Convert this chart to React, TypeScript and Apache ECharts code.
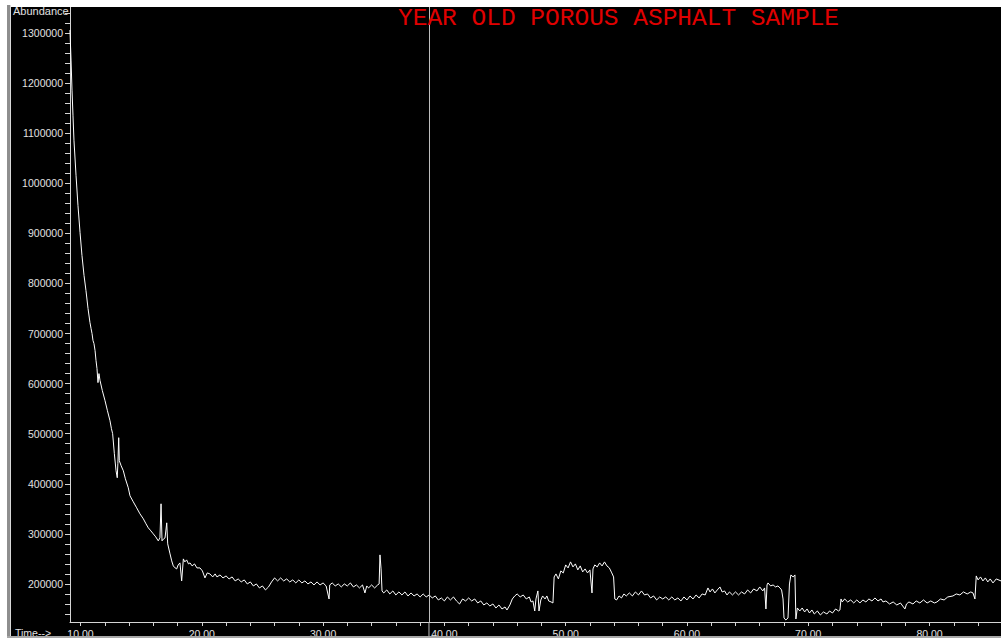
import React, { useEffect, useRef } from "react";
import * as echarts from "echarts";

const TITLE = "YEAR OLD POROUS ASPHALT SAMPLE";
const Y_NAME = "Abundance";
const X_NAME = "Time-->";

const X_MIN = 9.134;
const X_MAX = 85.89;
const Y_MIN = 124000;
const Y_MAX = 1352000;

const xLabelValues = [10, 20, 30, 40, 50, 60, 70, 80];
const yLabelValues = [
  200000, 300000, 400000, 500000, 600000, 700000, 800000, 900000, 1000000,
  1100000, 1200000, 1300000,
];
const X_MINOR_STEP = 2;
const Y_MINOR_STEP = 20000;

// time of the vertical cursor line (minutes)
const cursorTime = 38.73;

// [time (min), abundance]
const decayTrace: [number, number][] = [
  [9.13, 1306000], [9.22, 1246000], [9.3, 1186000], [9.38, 1136000], [9.46, 1086000],
  [9.63, 1016000], [9.79, 956000], [9.96, 902000], [10.12, 856000], [10.29, 816000],
  [10.45, 786000], [10.62, 750000], [10.78, 722000], [10.87, 710000], [10.95, 700000],
  [11.03, 686000], [11.11, 680000], [11.2, 666000], [11.28, 646000], [11.36, 630000],
  [11.44, 602000], [11.52, 620000], [11.61, 606000], [11.8, 586000], [12.02, 566000],
  [12.22, 546000], [12.43, 526000], [12.55, 510000], [12.65, 500000], [12.79, 460000],
  [12.93, 426000], [13.03, 412000], [13.08, 440000], [13.15, 492000], [13.2, 446000],
  [13.35, 436000], [13.53, 426000], [13.7, 410000], [13.94, 392000], [14.08, 376000],
  [14.35, 364000], [14.63, 352000], [14.9, 340000], [15.18, 330000], [15.4, 320000],
  [15.59, 312000], [15.8, 306000], [16.0, 300000], [16.2, 294000], [16.41, 286000],
  [16.55, 292000], [16.64, 360000], [16.72, 286000], [16.85, 290000], [16.97, 292000],
  [17.11, 322000], [17.19, 280000], [17.38, 260000], [17.52, 246000], [17.65, 236000],
  [17.8, 232000], [17.93, 230000], [18.05, 238000], [18.2, 242000], [18.34, 206000],
  [18.48, 250000], [18.6, 244000], [18.75, 248000], [18.9, 240000], [19.03, 242000],
  [19.2, 236000], [19.4, 240000], [19.6, 232000], [19.85, 232000],
];

const plateauTrace: [number, number][] = [
  [20.05, 226000], [20.26, 212000], [20.45, 222000], [20.67, 220000], [20.9, 214000],
  [21.1, 220000], [21.25, 214000], [21.5, 218000], [21.75, 212000], [22.0, 216000],
  [22.25, 210000], [22.5, 214000], [22.75, 206000], [23.0, 210000], [23.25, 204000],
  [23.5, 208000], [23.75, 200000], [24.0, 204000], [24.25, 196000], [24.5, 200000],
  [24.75, 192000], [25.0, 196000], [25.25, 188000], [25.5, 194000], [25.75, 204000],
  [26.0, 212000], [26.25, 206000], [26.5, 212000], [26.75, 206000], [27.0, 210000],
  [27.25, 204000], [27.5, 208000], [27.75, 202000], [28.0, 208000], [28.25, 202000],
  [28.5, 206000], [28.75, 200000], [29.0, 204000], [29.25, 198000], [29.5, 204000],
  [29.75, 198000], [30.0, 202000], [30.25, 196000], [30.49, 170000], [30.55, 198000],
  [30.75, 202000], [31.0, 196000], [31.25, 200000], [31.5, 194000], [31.75, 200000],
  [32.0, 196000], [32.25, 202000], [32.5, 194000], [32.75, 198000], [33.0, 192000],
  [33.25, 198000], [33.45, 182000], [33.6, 196000], [33.75, 192000], [34.0, 198000],
  [34.25, 192000], [34.5, 198000], [34.62, 200000], [34.69, 258000], [34.78, 230000],
  [34.86, 186000], [35.0, 182000], [35.25, 188000], [35.5, 180000], [35.75, 186000],
  [36.0, 178000], [36.25, 184000], [36.5, 178000], [36.75, 184000], [37.0, 176000],
  [37.25, 182000], [37.5, 176000], [37.75, 180000], [38.0, 174000], [38.25, 180000],
  [38.5, 174000], [38.75, 178000], [39.0, 172000], [39.25, 176000], [39.5, 168000],
  [39.75, 172000], [40.0, 166000], [40.25, 174000], [40.5, 168000], [40.75, 174000],
  [41.0, 166000], [41.25, 160000], [41.5, 170000], [41.75, 166000], [42.0, 172000],
  [42.25, 166000], [42.5, 170000], [42.75, 162000], [43.0, 166000], [43.25, 158000],
  [43.5, 162000], [43.75, 156000], [44.0, 160000], [44.25, 152000], [44.5, 158000],
  [44.75, 150000], [45.0, 154000], [45.16, 148000], [45.4, 158000], [45.6, 170000],
  [45.8, 176000], [46.0, 180000], [46.25, 174000], [46.5, 178000], [46.75, 170000],
  [47.0, 174000], [47.15, 164000], [47.3, 166000], [47.45, 146000], [47.55, 170000],
  [47.71, 186000], [47.8, 146000], [47.95, 168000], [48.1, 176000], [48.3, 170000],
  [48.45, 176000], [48.6, 166000], [48.8, 164000], [48.95, 162000],
];

const humpTrace: [number, number][] = [
  [49.05, 214000], [49.2, 220000], [49.4, 210000], [49.6, 226000], [49.8, 222000],
  [50.0, 238000], [50.2, 232000], [50.4, 244000], [50.6, 234000], [50.8, 240000],
  [51.0, 228000], [51.2, 236000], [51.4, 224000], [51.6, 230000], [51.8, 222000],
  [52.0, 228000], [52.17, 182000], [52.25, 230000], [52.4, 238000], [52.6, 234000],
  [52.8, 242000], [53.0, 236000], [53.2, 244000], [53.4, 236000], [53.6, 232000],
  [53.8, 222000], [53.95, 214000],
];

const lateTrace: [number, number][] = [
  [54.05, 170000], [54.2, 168000], [54.4, 176000], [54.6, 172000], [54.8, 180000],
  [55.0, 176000], [55.25, 182000], [55.5, 176000], [55.75, 184000], [56.0, 178000],
  [56.25, 186000], [56.5, 178000], [56.75, 180000], [57.0, 172000], [57.25, 176000],
  [57.5, 168000], [57.75, 174000], [58.0, 170000], [58.25, 174000], [58.5, 168000],
  [58.75, 174000], [59.0, 168000], [59.25, 172000], [59.5, 166000], [59.75, 174000],
  [60.0, 168000], [60.25, 176000], [60.5, 170000], [60.75, 178000], [61.0, 172000],
  [61.25, 180000], [61.5, 178000], [61.73, 192000], [61.9, 184000], [62.1, 190000],
  [62.3, 182000], [62.5, 188000], [62.72, 194000], [62.9, 184000], [63.1, 186000],
  [63.3, 178000], [63.5, 184000], [63.75, 178000], [64.0, 184000], [64.25, 178000],
  [64.5, 184000], [64.75, 180000], [65.0, 188000], [65.25, 182000], [65.5, 190000],
  [65.77, 186000], [66.0, 194000], [66.25, 186000], [66.4, 192000], [66.51, 150000],
  [66.6, 198000], [66.68, 202000], [66.9, 196000], [67.1, 198000], [67.3, 194000],
  [67.5, 196000], [67.67, 192000], [67.8, 188000], [67.92, 170000], [68.0, 132000],
  [68.15, 128000], [68.33, 132000], [68.45, 200000], [68.57, 218000], [68.75, 214000],
  [68.9, 218000], [68.98, 130000], [69.1, 152000], [69.3, 146000], [69.5, 152000],
  [69.7, 144000], [69.9, 150000], [70.1, 142000], [70.3, 148000], [70.5, 140000],
  [70.75, 146000], [71.0, 138000], [71.25, 144000], [71.54, 140000], [71.75, 146000],
  [72.0, 142000], [72.25, 150000], [72.5, 146000], [72.61, 148000], [72.7, 170000],
  [72.8, 164000], [73.0, 170000], [73.25, 164000], [73.5, 168000], [73.75, 162000],
  [74.0, 168000], [74.26, 162000], [74.5, 168000], [74.75, 164000], [75.0, 170000],
  [75.25, 166000], [75.5, 172000], [75.75, 166000], [76.0, 170000], [76.16, 164000],
  [76.4, 166000], [76.7, 160000], [77.0, 164000], [77.3, 158000], [77.6, 162000],
  [77.97, 150000], [78.1, 160000], [78.3, 164000], [78.63, 160000], [78.9, 166000],
  [79.2, 162000], [79.5, 168000], [79.8, 162000], [80.1, 166000], [80.4, 162000],
  [80.61, 164000], [80.9, 170000], [81.2, 168000], [81.5, 174000], [81.93, 176000],
  [82.2, 180000], [82.5, 178000], [82.8, 184000], [83.1, 180000], [83.4, 184000],
  [83.58, 182000], [83.74, 170000], [83.85, 216000], [84.0, 208000], [84.2, 214000],
  [84.4, 206000], [84.6, 212000], [84.8, 204000], [85.0, 210000], [85.23, 202000],
  [85.5, 210000], [85.89, 206000],
];

const AXIS_COLOR = "#d4d4d4";
const TEXT_COLOR = "#e0e0e0";
const UI_FONT = 'Arial, "Liberation Sans", sans-serif';

function stepValues(from: number, to: number, step: number): number[] {
  const out: number[] = [];
  for (let v = from; v <= to + 1e-9; v += step) out.push(Math.round(v * 1000) / 1000);
  return out;
}

export default function App() {
  const ref = useRef<HTMLDivElement>(null);

  useEffect(() => {
    if (!ref.current) return;
    const chart = echarts.init(ref.current, undefined, { renderer: "svg" });
    const trace = [...decayTrace, ...plateauTrace, ...humpTrace, ...lateTrace];
    const xTicks = stepValues(10, 84, X_MINOR_STEP);
    const yTicks = stepValues(140000, 1340000, Y_MINOR_STEP);

    chart.setOption({
      animation: false,
      backgroundColor: "#000000",
      title: {
        text: TITLE,
        left: 398,
        top: 6,
        padding: 0,
        textStyle: {
          color: "#e00000",
          fontFamily: '"Courier New", "Liberation Mono", monospace',
          fontSize: 24.5,
          fontWeight: "normal",
        },
      },
      grid: { left: 70, right: 0, top: 7, bottom: 19, containLabel: false },
      xAxis: {
        type: "value",
        min: X_MIN,
        max: X_MAX,
        splitLine: { show: false },
        axisLine: { show: true, lineStyle: { color: AXIS_COLOR, width: 1 } },
        axisTick: {
          show: true,
          length: 4,
          customValues: xTicks,
          lineStyle: { color: AXIS_COLOR },
        },
        axisLabel: {
          customValues: xLabelValues,
          formatter: (v: number) => v.toFixed(2),
          color: TEXT_COLOR,
          fontSize: 10.5,
          fontFamily: UI_FONT,
          margin: 6,
        },
      },
      yAxis: {
        type: "value",
        min: Y_MIN,
        max: Y_MAX,
        splitLine: { show: false },
        axisLine: { show: true, lineStyle: { color: AXIS_COLOR, width: 1 } },
        axisTick: {
          show: true,
          length: 5,
          customValues: yTicks,
          lineStyle: { color: AXIS_COLOR },
        },
        axisLabel: {
          customValues: yLabelValues,
          formatter: (v: number) => String(v),
          color: TEXT_COLOR,
          fontSize: 10.5,
          fontFamily: UI_FONT,
          margin: 7,
        },
      },
      series: [
        {
          type: "line",
          data: trace,
          showSymbol: false,
          symbol: "none",
          clip: true,
          lineStyle: { color: "#ffffff", width: 1 },
          markLine: {
            silent: true,
            symbol: "none",
            label: { show: false },
            lineStyle: { color: "#bdbdbd", width: 1, type: "solid" },
            data: [{ xAxis: cursorTime }],
          },
        },
      ],
      graphic: {
        elements: [
          {
            id: "yname",
            type: "text",
            x: 13,
            y: 11,
            z: 50,
            style: {
              text: Y_NAME,
              fill: TEXT_COLOR,
              font: `11px ${UI_FONT}`,
              textVerticalAlign: "middle",
            },
          },
          {
            id: "xname",
            type: "text",
            x: 15,
            y: 633,
            z: 50,
            style: {
              text: X_NAME,
              fill: TEXT_COLOR,
              font: `10.5px ${UI_FONT}`,
              textVerticalAlign: "middle",
            },
          },
          { id: "fTop", type: "rect", z: 100, shape: { x: 0, y: 0, width: 1001, height: 7 }, style: { fill: "#ffffff" } },
          { id: "fLeftW", type: "rect", z: 100, shape: { x: 0, y: 0, width: 7, height: 641 }, style: { fill: "#ffffff" } },
          { id: "fLeftG", type: "rect", z: 100, shape: { x: 7, y: 5, width: 3, height: 633 }, style: { fill: "#8e8e8e" } },
          { id: "fLeftL", type: "rect", z: 100, shape: { x: 10, y: 5, width: 1, height: 633 }, style: { fill: "#d8d8d8" } },
          { id: "fBot", type: "rect", z: 100, shape: { x: 0, y: 637, width: 1001, height: 4 }, style: { fill: "#ffffff" } },
          { id: "fBotG", type: "rect", z: 100, shape: { x: 7, y: 636, width: 994, height: 2 }, style: { fill: "#a8a8a8" } },
        ],
      },
    });

    const px = chart.convertToPixel({ xAxisIndex: 0 }, cursorTime) as number;
    const axisY = chart.convertToPixel({ yAxisIndex: 0 }, Y_MIN) as number;
    chart.setOption({
      graphic: {
        elements: [
          {
            id: "cursorTail",
            type: "line",
            z: 40,
            shape: { x1: px, y1: axisY, x2: px, y2: 637 },
            style: { stroke: "#bdbdbd", lineWidth: 1 },
          },
        ],
      },
    });

    return () => chart.dispose();
  }, []);

  return (
    <div
      ref={ref}
      style={{ position: "absolute", left: 0, top: 0, width: 1001, height: 641 }}
    />
  );
}
